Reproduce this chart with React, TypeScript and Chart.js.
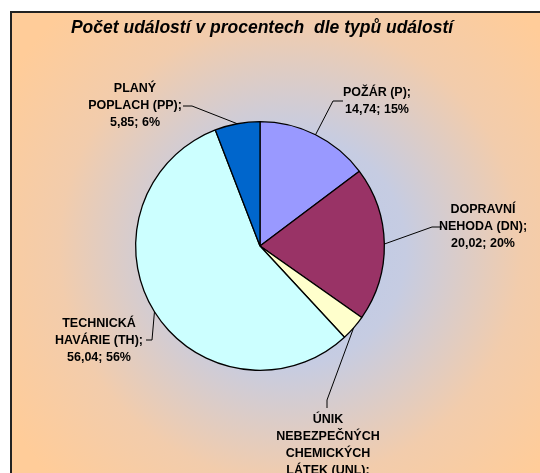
import React, { useEffect, useRef } from "react";
import { Chart, registerables } from "chart.js";

Chart.register(...registerables);

const TITLE = "Počet událostí v procentech  dle typů událostí";
const categories = [
  ["POŽÁR (P);"],
  ["DOPRAVNÍ", "NEHODA (DN);"],
  ["ÚNIK", "NEBEZPEČNÝCH", "CHEMICKÝCH", "LÁTEK (UNL);"],
  ["TECHNICKÁ", "HAVÁRIE (TH);"],
  ["PLANÝ", "POPLACH (PP);"],
];
const values = [14.74, 20.02, 3.35, 56.04, 5.85];
const percents = ["15%", "20%", "3%", "56%", "6%"];
const colors = ["#9999FF", "#993366", "#FFFFCC", "#CCFFFF", "#0066CC"];

// label layout: text center x, first line y, elbow point, end point (near text)
const labelLayout = [
  { cx: 377, y0: 93, elbow: [333, 101], end: [343, 101] },
  { cx: 483, y0: 210, elbow: [432, 227], end: [442, 227] },
  { cx: 328, y0: 420, elbow: [327, 400], end: [327, 408] },
  { cx: 99, y0: 324, elbow: [152, 340], end: [146, 340] },
  { cx: 135, y0: 89, elbow: [192, 106], end: [183, 106] },
];
const LINE_H = 17;

const fmt = (v: number) => v.toFixed(2).replace(".", ",");

const bgPlugin = {
  id: "bgFrame",
  beforeDraw(chart: any) {
    const ctx = chart.ctx;
    ctx.save();
    ctx.fillStyle = "#ffffff";
    ctx.fillRect(0, 0, chart.width, chart.height);
    const g = ctx.createRadialGradient(290, 250, 0, 290, 250, 330);
    g.addColorStop(0, "#B8CAEA");
    g.addColorStop(0.35, "#C6CCE2");
    g.addColorStop(0.7, "#F2CCAC");
    g.addColorStop(1, "#FFCC99");
    ctx.fillStyle = g;
    ctx.fillRect(10, 11, chart.width, chart.height);
    ctx.strokeStyle = "#222222";
    ctx.lineWidth = 2;
    ctx.beginPath();
    ctx.moveTo(11, chart.height + 5);
    ctx.lineTo(11, 12);
    ctx.lineTo(chart.width + 5, 12);
    ctx.stroke();
    ctx.fillStyle = "#000000";
    ctx.font = "italic bold 17.5px 'Liberation Sans', Arial, sans-serif";
    ctx.textAlign = "center";
    ctx.textBaseline = "alphabetic";
    ctx.fillText(TITLE, 262, 33);
    ctx.restore();
  },
};

const labelPlugin = {
  id: "pieLabels",
  afterDatasetsDraw(chart: any) {
    const ctx = chart.ctx;
    const meta = chart.getDatasetMeta(0);
    ctx.save();
    meta.data.forEach((arc: any, i: number) => {
      const p = arc.getProps(["x", "y", "startAngle", "endAngle", "outerRadius"], true);
      const mid = (p.startAngle + p.endAngle) / 2;
      const ax = p.x + Math.cos(mid) * p.outerRadius;
      const ay = p.y + Math.sin(mid) * p.outerRadius;
      const L = labelLayout[i];
      ctx.strokeStyle = "#000000";
      ctx.lineWidth = 1;
      ctx.beginPath();
      ctx.moveTo(ax, ay);
      ctx.lineTo(L.elbow[0], L.elbow[1]);
      ctx.lineTo(L.end[0], L.end[1]);
      ctx.stroke();
      const lines = [...categories[i], `${fmt(values[i])}; ${percents[i]}`];
      ctx.fillStyle = "#000000";
      ctx.font = "bold 12.5px 'Liberation Sans', Arial, sans-serif";
      ctx.textAlign = "center";
      ctx.textBaseline = "middle";
      lines.forEach((t, k) => ctx.fillText(t, L.cx, L.y0 + k * LINE_H));
    });
    ctx.restore();
  },
};

export default function App() {
  const ref = useRef<HTMLCanvasElement>(null);
  useEffect(() => {
    if (!ref.current) return;
    const chart = new Chart(ref.current, {
      type: "pie",
      data: {
        labels: categories.map((c) => c.join(" ")),
        datasets: [
          {
            data: values,
            backgroundColor: colors,
            borderColor: "#000000",
            borderWidth: 1.3,
          },
        ],
      },
      options: {
        animation: false,
        responsive: false,
        devicePixelRatio: 1,
        layout: { padding: { left: 135, right: 155, top: 121, bottom: 102 } },
        plugins: {
          legend: { display: false },
          tooltip: { enabled: false },
          title: { display: false },
        },
      },
      plugins: [bgPlugin, labelPlugin],
    });
    return () => chart.destroy();
  }, []);
  return (
    <div style={{ position: "fixed", left: 0, top: 0, width: 540, height: 473 }}>
      <canvas ref={ref} width={540} height={473} style={{ width: 540, height: 473, display: "block" }} />
    </div>
  );
}
